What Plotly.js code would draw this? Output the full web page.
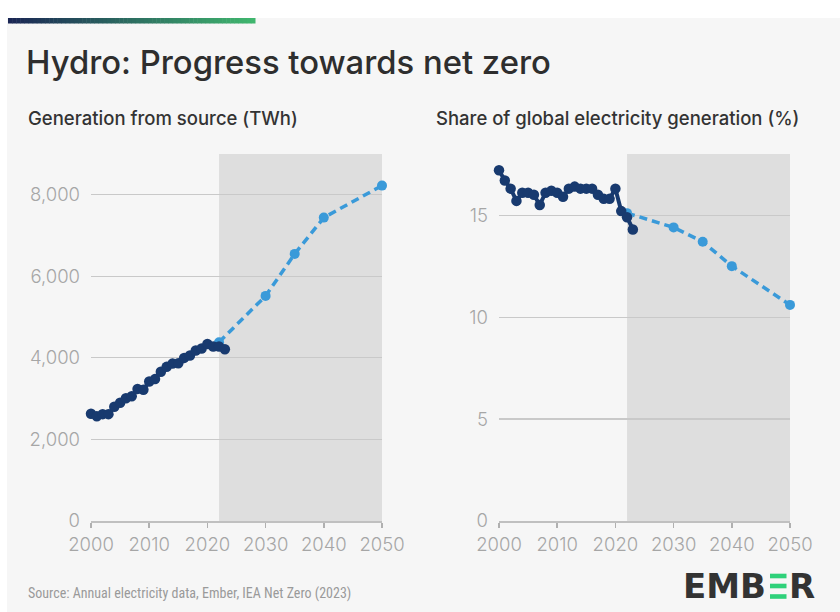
<!DOCTYPE html>
<html>
<head>
<meta charset="utf-8">
<script src="https://cdn.plot.ly/plotly-3.0.1.min.js"></script>
<style>html,body{margin:0;padding:0;background:#fff;}#chart{width:840px;height:612px;}</style>
</head>
<body>
<div id="chart"></div>
<script>
// ---- Data ----
const histYears = [2000,2001,2002,2003,2004,2005,2006,2007,2008,2009,2010,2011,2012,2013,2014,2015,2016,2017,2018,2019,2020,2021,2022,2023];
const histGenTWh = [2630,2570,2620,2620,2800,2900,3010,3060,3240,3220,3420,3480,3660,3780,3860,3870,4000,4060,4180,4230,4340,4280,4280,4210];
const histSharePct = [17.2,16.7,16.3,15.7,16.1,16.1,16.0,15.5,16.1,16.2,16.1,15.9,16.3,16.4,16.3,16.3,16.3,16.0,15.8,15.8,16.3,15.2,14.9,14.3];
const pathYears = [2022,2030,2035,2040,2050];
const pathGenTWh = [4385,5520,6550,7440,8225];
const pathSharePct = [15.1,14.4,13.7,12.5,10.6];
const pathwayStart = 2022, pathwayEnd = 2050;
const xTicks = [2000,2010,2020,2030,2040,2050];
const genTicks = [0,2000,4000,6000,8000];
const shareTicks = [0,5,10,15];
const mainTitle = "Hydro: Progress towards net zero";
const leftTitle = "Generation from source (TWh)";
const rightTitle = "Share of global electricity generation (%)";
const pathwayLabel = "IEA pathway<br>to net zero";
const sourceText = "Source: Annual electricity data, Ember, IEA Net Zero (2023)";

// ---- Styles ----
const W = 840, H = 612;
const navy = "#183a6f", light = "#3a9ad9";
const px = v => v / W, py = v => 1 - v / H;
const FONT = "Inter, 'Noto Sans', sans-serif";
const LOGO = "'DejaVu Sans', sans-serif";

function histTrace(x, y, xa, ya) {
  return {x, y, xaxis: xa, yaxis: ya, type: "scatter", mode: "lines+markers",
    line: {color: navy, width: 4}, marker: {color: navy, size: 10.5},
    cliponaxis: false, hoverinfo: "x+y", showlegend: false};
}
function pathTrace(x, y, xa, ya) {
  return {x, y, xaxis: xa, yaxis: ya, type: "scatter", mode: "lines+markers",
    line: {color: light, width: 3.5, dash: "8px,5px"}, marker: {color: light, size: 10},
    cliponaxis: false, hoverinfo: "x+y", showlegend: false};
}
const traces = [
  pathTrace(pathYears, pathGenTWh, "x", "y"),
  histTrace(histYears, histGenTWh, "x", "y"),
  pathTrace(pathYears, pathSharePct, "x2", "y2"),
  histTrace(histYears, histSharePct, "x2", "y2")
];

function xAxis(domain, anchor) {
  return {domain, anchor, range: [2000, 2050], tickvals: xTicks, ticks: "outside",
    ticklen: 5, tickcolor: "#b0b0b0", tickwidth: 1.5, showgrid: false, zeroline: false,
    showline: true, linecolor: "#c0c0c0", linewidth: 1.5,
    tickfont: {family: FONT, size: 18.5, color: "#a6a6a6", weight: 300}, ticklabelstandoff: 1, fixedrange: true};
}
function yAxis(domain, anchor, range, ticks, fmt) {
  return {domain, anchor, range, tickvals: ticks, tickformat: fmt, showgrid: true,
    gridcolor: "#c9c9c9", gridwidth: 1.2, zeroline: false, showline: false, ticks: "",
    tickfont: {family: FONT, size: 18.5, color: "#a6a6a6", weight: 300}, ticklabelstandoff: 10, fixedrange: true};
}

const shapes = [];
// page background
shapes.push({type: "rect", xref: "paper", yref: "paper", x0: px(7), x1: 1.01, y0: -0.01, y1: py(18),
  fillcolor: "#f6f6f6", line: {width: 0}, layer: "below"});
// gradient bar
const nSeg = 60, gx0 = 8, gx1 = 255;
const c0 = [26, 38, 84], c1 = [64, 182, 110];
for (let i = 0; i < nSeg; i++) {
  const t = i / (nSeg - 1);
  const c = c0.map((v, k) => Math.round(v + (c1[k] - v) * t));
  shapes.push({type: "rect", xref: "paper", yref: "paper",
    x0: px(gx0 + (gx1 - gx0) * i / nSeg), x1: px(gx0 + (gx1 - gx0) * (i + 1) / nSeg + 0.5),
    y0: py(23.5), y1: py(18), fillcolor: `rgb(${c.join(",")})`, line: {width: 0}, layer: "below"});
}
// pathway shading
shapes.push({type: "rect", xref: "x", yref: "y", x0: pathwayStart, x1: pathwayEnd, y0: 0, y1: 9000,
  fillcolor: "#dedede", line: {width: 0}, layer: "below"});
shapes.push({type: "rect", xref: "x2", yref: "y2", x0: pathwayStart, x1: pathwayEnd, y0: 0, y1: 18,
  fillcolor: "#dedede", line: {width: 0}, layer: "below"});
// Ember logo bars (the green "E")
const barX0 = 770, barX1 = 786.5;
[576, 586, 596.5].forEach(yc => {
  shapes.push({type: "rect", xref: "paper", yref: "paper", x0: px(barX0), x1: px(barX1),
    y0: py(yc + 2.3), y1: py(yc - 2.3), fillcolor: "#2fd17a", line: {width: 0}, layer: "above"});
});

const annotations = [
  {text: leftTitle, xref: "paper", yref: "paper", x: px(26), y: py(118), xanchor: "left", yanchor: "middle",
    showarrow: false, font: {family: FONT, size: 18.5, color: "#333", weight: 500}},
  {text: rightTitle, xref: "paper", yref: "paper", x: px(434), y: py(118), xanchor: "left", yanchor: "middle",
    showarrow: false, font: {family: FONT, size: 18.5, color: "#333", weight: 500}},
  {text: pathwayLabel, xref: "x", yref: "y", x: 2023.2, y: 9050, xanchor: "left", yanchor: "top", align: "left",
    showarrow: false, font: {family: FONT, size: 17.5, color: "#505050"}},
  {text: pathwayLabel, xref: "x2", yref: "y2", x: 2023.4, y: 18.1, xanchor: "left", yanchor: "top", align: "left",
    showarrow: false, font: {family: FONT, size: 17.5, color: "#505050"}},
  {text: sourceText, xref: "paper", yref: "paper", x: px(26), y: py(593), xanchor: "left", yanchor: "middle",
    showarrow: false, font: {family: "'Liberation Sans Narrow', 'Roboto Condensed', Roboto, sans-serif", size: 14, color: "#9a9a9a"}},
  {text: "EMB", xref: "paper", yref: "paper", x: px(768), y: py(586), xanchor: "right", yanchor: "middle",
    showarrow: false, font: {family: LOGO, size: 34, color: "#333", weight: 700}},
  {text: "R", xref: "paper", yref: "paper", x: px(787), y: py(586), xanchor: "left", yanchor: "middle",
    showarrow: false, font: {family: LOGO, size: 34, color: "#333", weight: 700}}
];

const layout = {
  width: W, height: H,
  margin: {l: 0, r: 0, t: 0, b: 0},
  paper_bgcolor: "#ffffff", plot_bgcolor: "rgba(0,0,0,0)",
  title: {text: mainTitle, x: px(26), xanchor: "left", xref: "container", y: py(63), yanchor: "middle", yref: "container",
    font: {family: FONT, size: 32.8, color: "#2e2e2e", weight: 500}},
  xaxis: xAxis([px(91), px(382)], "y"),
  yaxis: yAxis([py(521), py(154)], "x", [0, 9000], genTicks, ","),
  xaxis2: xAxis([px(499), px(790)], "y2"),
  yaxis2: yAxis([py(521), py(154)], "x2", [0, 18], shareTicks, ""),
  shapes, annotations, showlegend: false, hovermode: false
};

Plotly.newPlot("chart", traces, layout, {displayModeBar: false, staticPlot: true});
</script>
</body>
</html>
